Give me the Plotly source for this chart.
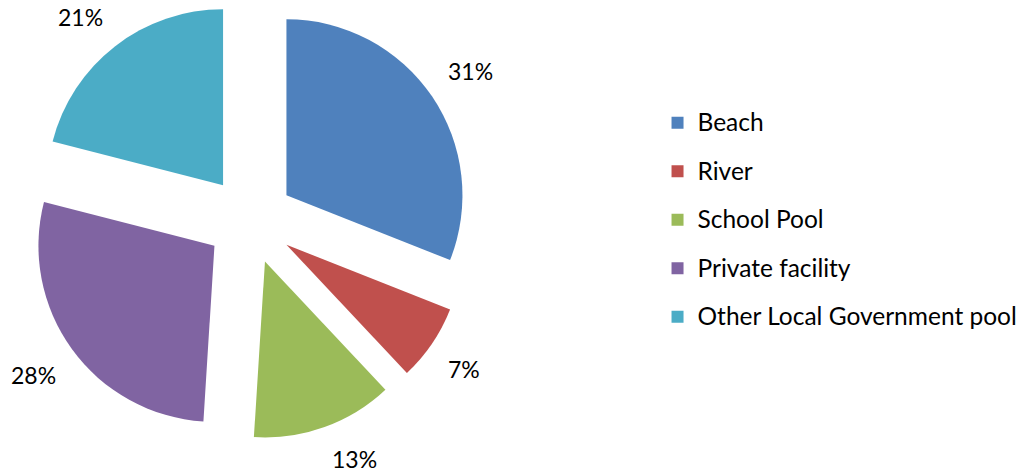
import math
import plotly.graph_objects as go

# Where people swim: share of responses by location
categories = ["Beach", "River", "School Pool", "Private facility", "Other Local Government pool"]
shares = [31, 7, 13, 28, 21]
colors = ["#4F81BD", "#C0504D", "#9BBB59", "#8064A2", "#4BACC6"]

W, H = 1029, 473
MARGIN_B = 33
PULL = 0.25
DOMAIN_X = [0.0, 0.486]
FONT = "Lato"

# legend rows are spaced by a large legend font; the visible text is smaller
legend_labels = [
    f"<span style='font-size:24.5px;baseline-shift:5px'>{c}</span>" for c in categories
]

fig = go.Figure(
    go.Pie(
        labels=legend_labels,
        values=shares,
        sort=False,
        direction="clockwise",
        rotation=0,
        pull=[PULL] * len(shares),
        marker=dict(colors=colors, line=dict(width=0)),
        textinfo="none",
        hoverinfo="percent",
        domain=dict(x=DOMAIN_X, y=[0, 1]),
    )
)

# percentage labels set just beyond each pulled slice, along its mid-angle
plot_h = H - MARGIN_B
radius = plot_h / (2 + 2 * PULL)
cx = W * (DOMAIN_X[0] + DOMAIN_X[1]) / 2
cy = plot_h / 2
label_r = radius * (1 + PULL) + 17
total = sum(shares)
start = 0.0
for v in shares:
    mid = (start + v / 2) / total * 2 * math.pi
    start += v
    sx, sy = math.sin(mid), -math.cos(mid)
    px = cx + label_r * sx
    py = cy + label_r * sy
    fig.add_annotation(
        x=px / W, y=1 - py / plot_h, xref="paper", yref="paper",
        text=f"{round(v / total * 100)}%", showarrow=False,
        xanchor="left" if sx > 0 else "right",
        yanchor="top" if sy > 0 else "bottom",
        font=dict(family=FONT, size=23, color="#000000"),
    )

fig.update_layout(
    width=W, height=H,
    margin=dict(l=0, r=0, t=0, b=MARGIN_B),
    paper_bgcolor="white", plot_bgcolor="white",
    font=dict(family=FONT, size=22, color="#000000"),
    showlegend=True,
    legend=dict(
        x=0.639, y=0.5, xanchor="left", yanchor="middle",
        font=dict(family=FONT, size=35, color="#000000"),
        bgcolor="rgba(0,0,0,0)",
    ),
)

fig.write_html("out.html")
